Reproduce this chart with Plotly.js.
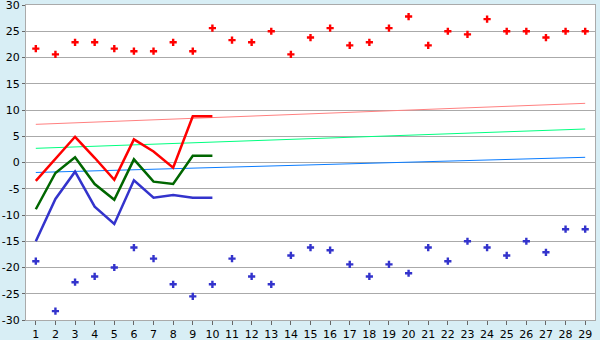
<!DOCTYPE html>
<html>
<head>
<meta charset="utf-8">
<script src="https://cdn.plot.ly/plotly-3.0.1.min.js"></script>
<style>html,body{margin:0;padding:0;background:#d8eef5;}#chart{width:600px;height:340px;}</style>
</head>
<body>
<div id="chart"></div>
<script>
// Categories 1..29
var categories = [1,2,3,4,5,6,7,8,9,10,11,12,13,14,15,16,17,18,19,20,21,22,23,24,25,26,27,28,29];

// Upper scattered points (red)
var highPoints = [21.7,20.6,22.9,22.9,21.7,21.2,21.2,22.9,21.2,25.6,23.3,22.9,25.0,20.6,23.8,25.6,22.3,22.9,25.6,27.8,22.3,25.0,24.4,27.3,25.0,25.0,23.8,25.0,25.0];
// Lower scattered points (blue)
var lowPoints = [-18.8,-28.3,-22.8,-21.7,-20.0,-16.2,-18.3,-23.2,-25.5,-23.2,-18.3,-21.7,-23.2,-17.7,-16.2,-16.7,-19.4,-21.7,-19.4,-21.1,-16.2,-18.8,-15.0,-16.2,-17.7,-15.0,-17.1,-12.7,-12.7];

// Lines over first 10 categories
var lineCats = [1,2,3,4,5,6,7,8,9,10];
var redLine = [-3.5,0.7,4.9,0.9,-3.3,4.4,2.1,-1.0,8.8,8.8];
var greenLine = [-8.9,-2.0,1.0,-4.1,-7.1,0.6,-3.65,-4.1,1.3,1.3];
var blueLine = [-15.0,-6.95,-1.75,-8.4,-11.7,-3.4,-6.7,-6.2,-6.7,-6.7];

// Trend lines (start at category 1, end at category 29)
var trendCats = [1,29];
var pinkTrend = [7.27,11.27];
var lightGreenTrend = [2.7,6.38];
var lightBlueTrend = [-1.9,0.99];

var yTicks = [-30,-25,-20,-15,-10,-5,0,5,10,15,20,25,30];

var traces = [
  {x: trendCats, y: pinkTrend, mode: 'lines', line: {color: '#ff8080', width: 1}},
  {x: trendCats, y: lightGreenTrend, mode: 'lines', line: {color: '#00ff80', width: 1}},
  {x: trendCats, y: lightBlueTrend, mode: 'lines', line: {color: '#0a7cff', width: 1}},
  {x: lineCats, y: redLine, mode: 'lines', line: {color: '#ff0000', width: 2.5}},
  {x: lineCats, y: greenLine, mode: 'lines', line: {color: '#006600', width: 2.5}},
  {x: lineCats, y: blueLine, mode: 'lines', line: {color: '#3333cc', width: 2.5}},
  {x: categories, y: highPoints, mode: 'markers', marker: {symbol: 'cross', size: 6, color: '#ff0000', line: {width: 0}}},
  {x: categories, y: lowPoints, mode: 'markers', marker: {symbol: 'cross', size: 6, color: '#3333cc', line: {width: 0}}}
];

var layout = {
  width: 600, height: 340,
  margin: {l: 26, r: 5, t: 5, b: 20, pad: 0},
  paper_bgcolor: '#d8eef5',
  plot_bgcolor: '#ffffff',
  showlegend: false,
  font: {family: 'DejaVu Sans', size: 11, color: '#000000'},
  xaxis: {
    range: [0.5, 29.5],
    tickmode: 'array', tickvals: categories, ticktext: categories.map(String),
    ticks: 'outside', ticklen: 4, tickcolor: '#666666', tickwidth: 1,
    ticklabeloverflow: 'allow',
    showgrid: false, zeroline: false,
    showline: true, linecolor: '#aaaaaa', linewidth: 1, mirror: true,
    fixedrange: true
  },
  yaxis: {
    range: [-30, 30],
    tickmode: 'array', tickvals: yTicks, ticktext: yTicks.map(String),
    ticks: 'outside', ticklen: 3, tickcolor: '#666666', tickwidth: 1,
    ticklabeloverflow: 'allow',
    showgrid: true, gridcolor: '#aaaaaa', gridwidth: 1,
    zeroline: false,
    showline: true, linecolor: '#aaaaaa', linewidth: 1, mirror: true,
    fixedrange: true
  }
};

Plotly.newPlot('chart', traces, layout, {displayModeBar: false, staticPlot: true});
</script>
</body>
</html>
